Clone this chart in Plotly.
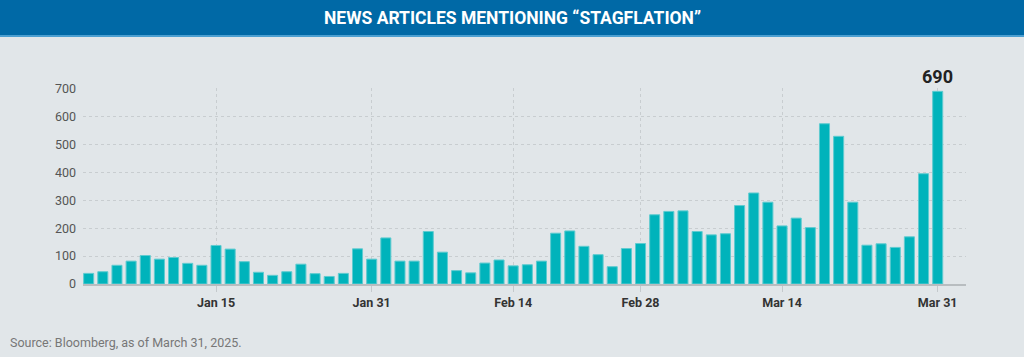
import plotly.graph_objects as go
import pandas as pd

# Trading days (US market holidays excluded)
holidays = ["2025-01-01", "2025-01-09", "2025-01-20", "2025-02-17"]
dates = [d.strftime("%Y-%m-%d") for d in pd.bdate_range("2024-12-31", "2025-03-31")
         if d.strftime("%Y-%m-%d") not in holidays]

articles = [38, 44, 67, 82, 102, 89, 95, 74, 67, 138,
            125, 80, 42, 31, 44, 71, 37, 27, 38, 126,
            89, 165, 82, 82, 188, 114, 48, 40, 75, 86,
            65, 69, 82, 182, 190, 135, 105, 62, 127, 145,
            248, 260, 262, 188, 176, 180, 281, 326, 293, 208,
            236, 202, 574, 529, 293, 139, 144, 131, 169, 395,
            690]

tick_dates = ["2025-01-15", "2025-01-31", "2025-02-14", "2025-02-28", "2025-03-14", "2025-03-31"]
tick_labels = ["Jan 15", "Jan 31", "Feb 14", "Feb 28", "Mar 14", "Mar 31"]

title_text = "NEWS ARTICLES MENTIONING “STAGFLATION”"
source_text = "Source: Bloomberg, as of March 31, 2025."

W, H = 1024, 357
ML, MR, MT, MB = 83, 58, 88, 73
pw, ph = W - ML - MR, H - MT - MB

def px_x(p):
    return (p - ML) / pw

def px_y(p):
    return (H - MB - p) / ph

fig = go.Figure()
fig.add_trace(go.Bar(
    x=dates, y=articles,
    marker=dict(color="#00B3BB", line=dict(color="#5FCBD0", width=1)),
    hoverinfo="x+y",
))

fig.add_annotation(x=dates[-1], y=articles[-1], text="<b>%d</b>" % articles[-1],
                   showarrow=False, yanchor="bottom", yshift=2,
                   font=dict(family="Roboto", size=18, color="#222222"))

# header band
fig.add_shape(type="rect", xref="paper", yref="paper",
              x0=px_x(0), x1=px_x(W), y0=px_y(35), y1=px_y(0),
              fillcolor="#0069A6", line=dict(width=0), layer="below")
fig.add_shape(type="rect", xref="paper", yref="paper",
              x0=px_x(0), x1=px_x(W), y0=px_y(37), y1=px_y(35),
              fillcolor="#4B9FD1", line=dict(width=0), layer="below")
fig.add_annotation(xref="paper", yref="paper", x=px_x(W / 2), y=px_y(18),
                   text="<b>" + title_text + "</b>", showarrow=False,
                   xanchor="center", yanchor="middle",
                   font=dict(family="Roboto", size=17.5, color="#FFFFFF"))
fig.add_annotation(xref="paper", yref="paper", x=px_x(8), y=px_y(342),
                   text=source_text, showarrow=False,
                   xanchor="left", yanchor="middle",
                   font=dict(family="Roboto", size=12.5, color="#777777"))

fig.update_layout(
    width=W, height=H,
    margin=dict(l=ML, r=MR, t=MT, b=MB, pad=0),
    paper_bgcolor="#E1E6E9", plot_bgcolor="#E1E6E9",
    bargap=0.29, showlegend=False,
    font=dict(family="Roboto"),
)
fig.update_xaxes(
    type="category", categoryorder="array", categoryarray=dates,
    range=[-0.4, len(dates) + 1.0],
    tickmode="array", tickvals=tick_dates, ticktext=tick_labels,
    tickfont=dict(family="Roboto", size=12.5, color="#333333", weight="bold"),
    ticks="outside", ticklen=6, tickcolor="#C4C9CC", tickwidth=1,
    showgrid=True, gridcolor="#C8CDD0", griddash="dot", gridwidth=1,
    showline=True, linecolor="#B8BDC0", linewidth=1.5,
    zeroline=False,
)
fig.update_yaxes(
    range=[0, 702], tickvals=[0, 100, 200, 300, 400, 500, 600, 700],
    tickfont=dict(family="Roboto", size=12.5, color="#555555"),
    ticklabelstandoff=6,
    showgrid=True, gridcolor="#C8CDD0", griddash="dot", gridwidth=1,
    zeroline=False, showline=False,
)

fig.write_html("out.html",
               config={"displayModeBar": False},
               post_script="document.body.style.margin='0';document.body.style.background='#E1E6E9';")
